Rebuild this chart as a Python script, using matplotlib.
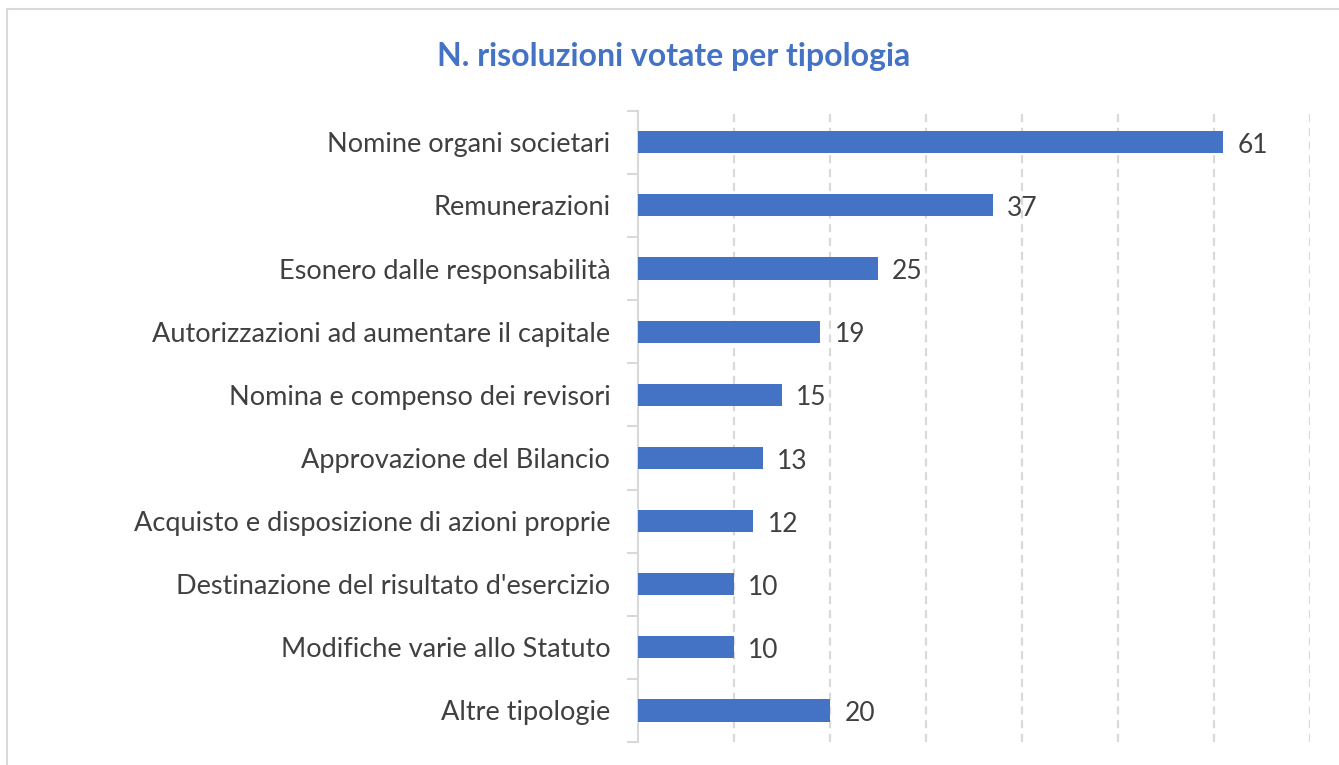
import matplotlib
matplotlib.use("Agg")
import matplotlib.pyplot as plt
from matplotlib.patches import Rectangle

# dati
categorie = [
    "Nomine organi societari",
    "Remunerazioni",
    "Esonero dalle responsabilità",
    "Autorizzazioni ad aumentare il capitale",
    "Nomina e compenso dei revisori",
    "Approvazione del Bilancio",
    "Acquisto e disposizione di azioni proprie",
    "Destinazione del risultato d'esercizio",
    "Modifiche varie allo Statuto",
    "Altre tipologie",
]
valori = [61, 37, 25, 19, 15, 13, 12, 10, 10, 20]
titolo = "N. risoluzioni votate per tipologia"

plt.rcParams['font.family'] = ['Lato', 'DejaVu Sans']

blu = "#4472C4"
grigio_testo = "#404040"
grigio_linee = "#d9d9d9"

fig = plt.figure(figsize=(13.39, 7.65), dpi=100)
ax = fig.add_axes([0.4765, 0.030, 0.978 - 0.4765, 0.8553 - 0.030])

y = list(range(len(categorie)))
ax.barh(y, valori, height=0.35, color=blu, zorder=3)
ax.set_ylim(len(categorie) - 0.5, -0.5)
ax.set_xlim(0, 70)

for yi, v in zip(y, valori):
    ax.text(v + 1.5, yi + 0.05, str(v), va="center", ha="left",
            fontsize=19, color=grigio_testo)

# griglia verticale tratteggiata
ax.set_xticks(range(10, 71, 10))
ax.xaxis.grid(True, color=grigio_linee, linewidth=1.6, linestyle=(0, (3.6, 2.6)), zorder=0)
ax.tick_params(axis="x", length=0, labelbottom=False)

ax.set_yticks(y)
ax.set_yticklabels(categorie, fontsize=19.5, color=grigio_testo)
ax.set_yticks([i - 0.5 for i in range(len(categorie) + 1)], minor=True)
ax.tick_params(axis="y", which="major", length=0, pad=20)
ax.tick_params(axis="y", which="minor", length=8, width=1.5, color=grigio_linee)

for s in ["top", "right", "bottom"]:
    ax.spines[s].set_visible(False)
ax.spines["left"].set_color(grigio_linee)
ax.spines["left"].set_linewidth(1.5)

fig.text(0.503, 0.926, titolo, ha="center", va="center",
         fontsize=23, fontweight="bold", color=blu)

# cornice del grafico
fig.patches.append(Rectangle((7 / 1339, -0.1), 1.2, 1 - 9 / 765 + 0.1,
                             transform=fig.transFigure, fill=False,
                             edgecolor=grigio_linee, linewidth=1.5))

fig.savefig("out.png", dpi=100)
